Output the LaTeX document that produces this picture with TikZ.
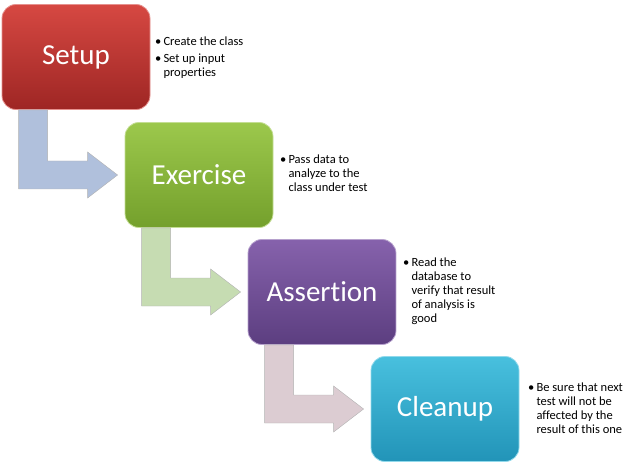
\documentclass[tikz,border=0pt]{standalone}
\usepackage{fontspec}
\setmainfont[Ligatures=NoCommon]{Carlito}
\usetikzlibrary{calc}
\definecolor{setuptop}{RGB}{214,72,66}
\definecolor{setupbot}{RGB}{158,38,36}
\definecolor{exertop}{RGB}{156,200,76}
\definecolor{exerbot}{RGB}{116,160,44}
\definecolor{asserttop}{RGB}{134,98,172}
\definecolor{assertbot}{RGB}{92,62,128}
\definecolor{cleantop}{RGB}{72,192,222}
\definecolor{cleanbot}{RGB}{34,148,184}
\definecolor{arrowblue}{RGB}{176,192,220}
\definecolor{arrowgreen}{RGB}{198,220,178}
\definecolor{arrowpink}{RGB}{220,204,210}

\begin{document}
\begin{tikzpicture}[x=1pt,y=-1pt,
  stepbox/.style={rounded corners=14pt, minimum width=148pt, minimum height=105pt,
    inner sep=0pt, text=white, font=\fontsize{29}{33}\selectfont, line width=0.8pt},
  note/.style={anchor=north west, inner sep=0pt, font=\fontsize{12.5}{14}\selectfont},
  bentarrow/.style={draw=white!70!black, line width=0.4pt}]
\useasboundingbox (0,0) rectangle (640,473);

% Steps
\node[stepbox, top color=setuptop, bottom color=setupbot, draw=setuptop!60!white] (setup) at (76,57) {Setup};
\node[stepbox, top color=exertop, bottom color=exerbot, draw=exertop!60!white] (exercise) at (199,175) {Exercise};
\node[stepbox, top color=asserttop, bottom color=assertbot, draw=asserttop!60!white] (assertion) at (322,292) {Assertion};
\node[stepbox, top color=cleantop, bottom color=cleanbot, draw=cleantop!60!white] (cleanup) at (445,409) {Cleanup};

% Notes beside each step
\node[note] (setupnote) at (155,36) {\begin{tabular}{@{}l@{\,}l@{}}
  • & Create the class\\[3pt]
  • & Set up input\\
    & properties\end{tabular}};
\node[note] (exercisenote) at (280,154) {\begin{tabular}{@{}l@{\,}l@{}}
  • & Pass data to\\
    & analyze to the\\
    & class under test\end{tabular}};
\node[note] (assertionnote) at (403,256) {\begin{tabular}{@{}l@{\,}l@{}}
  • & Read the\\
    & database to\\
    & verify that result\\
    & of analysis is\\
    & good\end{tabular}};
\node[note] (cleanupnote) at (528,381) {\begin{tabular}{@{}l@{\,}l@{}}
  • & Be sure that next\\
    & test will not be\\
    & affected by the\\
    & result of this one\end{tabular}};

% Bent arrows from one step to the next
\fill[arrowblue, bentarrow] let \p1=(setup.south west), \p2=(exercise.west) in
  (\x1+17pt,\y1) -- (\x1+46pt,\y1) -- (\x1+46pt,\y2+14pt) -- (\x2-37pt,\y2+14pt)
  -- (\x2-37pt,\y2+23pt) -- (\x2-7pt,\y2) -- (\x2-37pt,\y2-23pt)
  -- (\x2-37pt,\y2-14pt) -- (\x1+17pt,\y2-14pt) -- cycle;
\fill[arrowgreen, bentarrow] let \p1=(exercise.south west), \p2=(assertion.west) in
  (\x1+17pt,\y1) -- (\x1+46pt,\y1) -- (\x1+46pt,\y2+14pt) -- (\x2-37pt,\y2+14pt)
  -- (\x2-37pt,\y2+23pt) -- (\x2-7pt,\y2) -- (\x2-37pt,\y2-23pt)
  -- (\x2-37pt,\y2-14pt) -- (\x1+17pt,\y2-14pt) -- cycle;
\fill[arrowpink, bentarrow] let \p1=(assertion.south west), \p2=(cleanup.west) in
  (\x1+17pt,\y1) -- (\x1+46pt,\y1) -- (\x1+46pt,\y2+14pt) -- (\x2-37pt,\y2+14pt)
  -- (\x2-37pt,\y2+23pt) -- (\x2-7pt,\y2) -- (\x2-37pt,\y2-23pt)
  -- (\x2-37pt,\y2-14pt) -- (\x1+17pt,\y2-14pt) -- cycle;
\end{tikzpicture}
\end{document}
